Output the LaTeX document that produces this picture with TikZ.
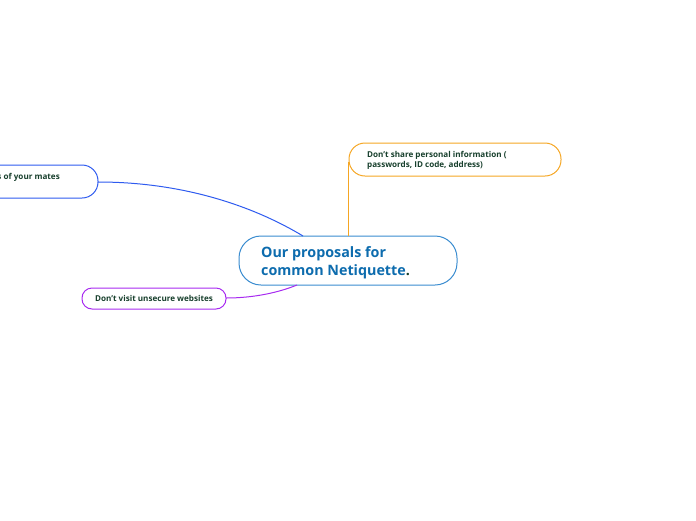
\documentclass[tikz,border=0pt]{standalone}
\usepackage{fontspec}
\setmainfont{Open Sans}
\definecolor{cblue}{HTML}{3A8CD0}
\definecolor{ctext}{HTML}{0D6CAE}
\definecolor{corange}{HTML}{F5A623}
\definecolor{cleft}{HTML}{2E5BEF}
\definecolor{cpurple}{HTML}{A72AF0}
\definecolor{cdark}{HTML}{173F2C}
\begin{document}
\begin{tikzpicture}[x=1pt,y=-1pt,
  topic/.style={draw, line width=1pt, rounded corners=16pt},
  small/.style={font=\bfseries\fontsize{8.1}{10}\selectfont, text=cdark, anchor=west, align=left},
  conn/.style={line width=1pt}]
\useasboundingbox (0,0) rectangle (696,520);
% central
\draw[topic, cblue, fill=white, rounded corners=22pt] (239,236) rectangle (457,285);
\node[font=\bfseries\fontsize{14.3}{18.5}\selectfont, text=ctext, anchor=west, align=left, inner sep=0pt] (c) at (261,262.5) {Our proposals for\\common Netiquette{\color{cdark}.}};
\coordinate (ctop) at (303,236);
\coordinate (cor) at (348,236);
\coordinate (cbot) at (297,285);
% orange node
\draw[topic, corange] (349,143) rectangle (561,176);
\node[small, inner sep=0pt] (o) at (367,160) {Don't share personal information (\\passwords, ID code, address)};
\coordinate (oin) at (348,162);
% left node
\draw[topic, cleft] (-40,165) rectangle (98,198);
\node[small, inner sep=0pt, anchor=east] (l) at (60,177) {Respect the opinions of your mates};
\coordinate (lin) at (98,182);
% purple node
\draw[topic, cpurple, rounded corners=10pt] (82,288) rectangle (226,309);
\node[small, inner sep=0pt, anchor=center] (p) at (154,298.5) {Don't visit unsecure websites};
\coordinate (pin) at (226,298);
% connectors
\draw[conn, cleft] (lin) .. controls (190,182) and (260,210) .. (ctop);
\draw[conn, corange] (cor) -- (oin);
\draw[conn, cpurple] (pin) .. controls (255,298) and (280,292) .. (cbot);
\end{tikzpicture}
\end{document}
